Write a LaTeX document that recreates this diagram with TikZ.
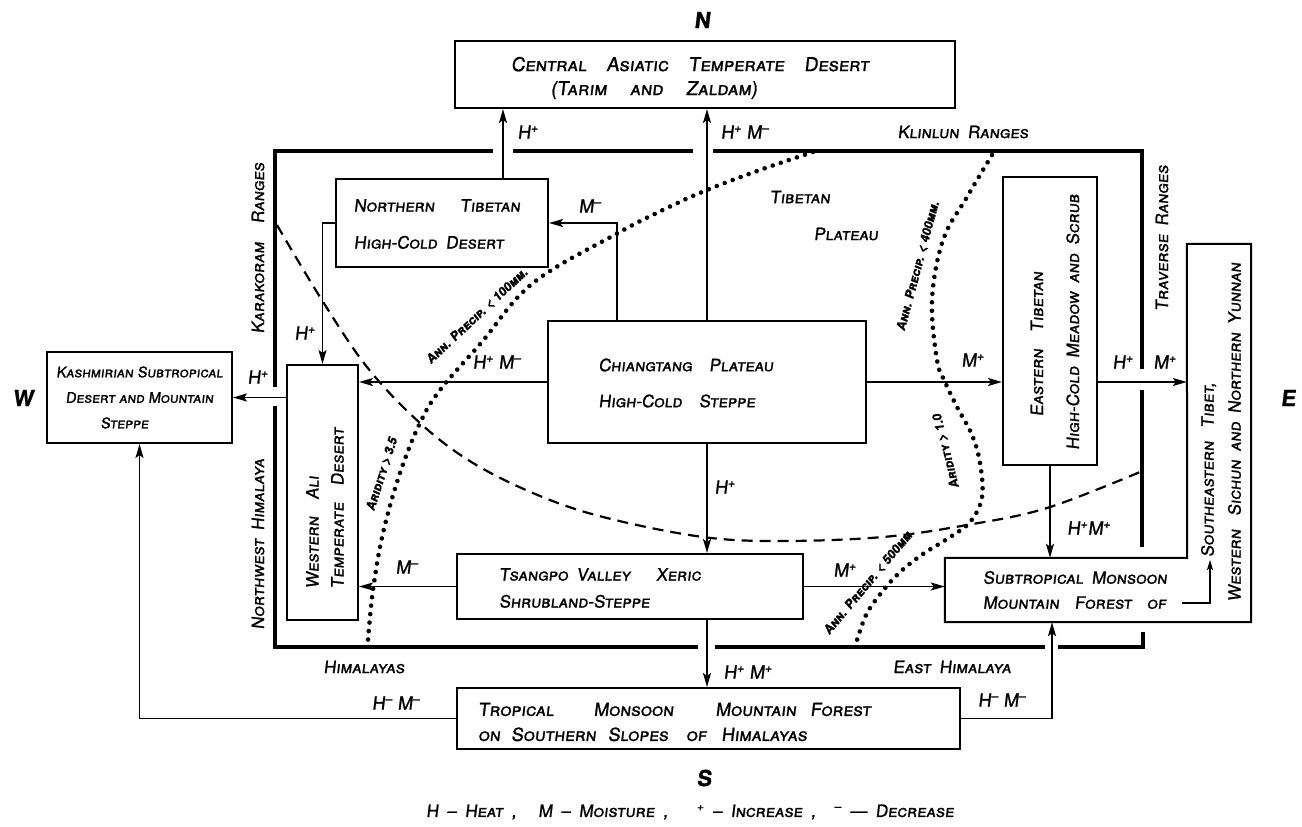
\documentclass[tikz,border=0pt]{standalone}
\usepackage{fontspec}
\usetikzlibrary{arrows.meta,calc}
\newfontfamily\hand{TeX Gyre Heros}[FakeSlant=0.12,FakeBold=1.2,Letters=SmallCaps,Ligatures=TeX]
\newcommand\supP{\textsuperscript{+}}
\newcommand\supM{\textsuperscript{–}}
\tikzset{
  box/.style={draw, line width=2pt, inner sep=0pt},
  txt/.style={font={\hand\fontsize{17}{#1}\selectfont\spaceskip=0.5em\relax}, inner sep=0pt},
  lab/.style={font={\hand\fontsize{18}{20}\selectfont}, inner sep=0pt},
  rng/.style={font={\hand\fontsize{17}{20}\selectfont\spaceskip=0.5em\relax}, inner sep=0pt},
  clab/.style={font={\hand\bfseries\fontsize{12.5}{14}\selectfont}, inner sep=0pt},
  compass/.style={font={\hand\bfseries\fontsize{22}{24}\selectfont}, inner sep=0pt},
  arr/.style={line width=1.8pt, -{Stealth[length=14pt,width=8pt,inset=3pt]}},
  rangeline/.style={line width=4.5pt},
  dots/.style={line width=4.6pt, line cap=round, dash pattern=on 0.01pt off 8.5pt},
  dashcurve/.style={line width=2.2pt, dash pattern=on 11pt off 7pt}
}
\begin{document}
\begin{tikzpicture}[x=1pt,y=-1pt]
\useasboundingbox (0,0) rectangle (1302,827);
\fill[white] (0,0) rectangle (1302,827);

% ---------- mountain ranges (frame) ----------
\draw[rangeline] (493,151) -- (275,151) -- (275,387);
\draw[rangeline] (513,151) -- (693,151);
\draw[rangeline] (713,151) -- (1142,151) -- (1142,369);
\draw[rangeline] (1142,390) -- (1142,547);
\draw[rangeline] (275,406) -- (275,647) -- (698,647);
\draw[rangeline] (715,647) -- (1045,647);
\draw[rangeline] (1058,647) -- (1143,647) -- (1143,632);

% ---------- curves ----------
\draw[dashcurve] plot[smooth, tension=0.6] coordinates {(277,225) (320,297) (367,367) (420,423) (473,463) (540,496) (607,518) (703,537) (783,541) (883,537) (967,525) (1047,508) (1140,472)};
\draw[dots] plot[smooth, tension=0.6] coordinates {(813,152) (760,170) (707,190) (667,208) (618,233) (533,283) (481,343) (440,390) (420,423) (400,473) (383,533) (373,590) (368,640)};
\draw[dots] plot[smooth, tension=0.6] coordinates {(992,155) (967,197) (943,240) (932,300) (937,360) (945,382) (957,407) (972,435) (980,463) (982,497) (970,522) (947,539) (920,556) (897,575) (878,597) (866,615) (857,640)};

% ---------- boxes ----------
\node[box, minimum width=500pt, minimum height=67pt] (top) at (705,74.5) {};
\node[txt=24, font={\hand\fontsize{19}{24}\selectfont}, align=center] (top-t) at (672,78) {\hspace*{36pt}Central\hspace{20pt}Asiatic\hspace{20pt}Temperate\hspace{20pt}Desert\\(Tarim\hspace{23pt}and\hspace{23pt}Zaldam)\hspace*{36pt}};

\node[box, minimum width=212pt, minimum height=88pt] (nt) at (442,223) {};
\node[txt=37, align=left] (nt-t) at (437,224) {Northern\hspace{1em} Tibetan\\High-Cold Desert};

\node[box, minimum width=318pt, minimum height=122pt] (ca) at (707,382) {};
\node[txt=36, align=left] (ca-t) at (686,383) {Chiangtang\hspace{0.5em} Plateau\\High-Cold\hspace{0.5em} Steppe};

\node[box, minimum width=71pt, minimum height=255pt] (wa) at (322.5,492.5) {};
\node[txt=25, align=left, rotate=90] (wa-t) at (325,508) {Western\hspace{0.5em} Ali\\Temperate\hspace{0.5em} Desert};

\node[box, txt=25.5, font={\hand\fontsize{14.5}{25.5}\selectfont}, align=center, minimum width=185pt, minimum height=91pt] (ks) at (139.5,397.5) {Kashmirian Subtropical\\Desert and Mountain\\Steppe\hspace*{30pt}};

\node[box, minimum width=94pt, minimum height=288pt] (et) at (1050,321) {};
\node[txt=36, align=center, rotate=90] (et-t) at (1055,322) {Eastern\hspace{0.5em} Tibetan\hspace*{44pt}\\High-Cold Meadow and Scrub};

\node[box, minimum width=346pt, minimum height=65pt] (ts) at (630,586.5) {};
\node[txt=27, align=left] (ts-t) at (600,588) {Tsangpo Valley\hspace{1em} Xeric\\Shrubland-Steppe};

\node[box, minimum width=503pt, minimum height=61pt] (tr) at (708.5,718.5) {};
\node[txt=25, font={\hand\fontsize{18}{25}\selectfont}, align=left, anchor=west] (tr-t) at (478,722) {Tropical\hspace{40pt}Monsoon\hspace{42pt}Mountain\hspace{14pt}Forest\\on\hspace{11pt}Southern\hspace{12pt}Slopes\hspace{18pt}of\hspace{15pt}Himalayas};

\node[minimum width=242pt, minimum height=64pt, inner sep=0pt] (sm) at (1066,590) {};
\node[minimum width=64pt, minimum height=378pt, inner sep=0pt] (se) at (1219,433) {};
\draw[line width=2pt] (sm.north west) -- (sm.north east) -- (se.north west) -- (se.north east) -- (se.south east) -- (sm.south west) -- cycle;
\node[txt=25, align=left] (sm-t) at (1075,590) {Subtropical Monsoon\\Mountain\hspace{0.4em} Forest\hspace{0.4em} of};
\node[txt=27, align=center, rotate=90] (se-t) at (1221,432) {Southeastern\hspace{0.3em} Tibet,\hspace*{76pt}\\Western\hspace{0.3em} Sichun and Northern Yunnan};

% ---------- connectors ----------
\coordinate (ntup) at ($(nt.north)+(61,0)$);
\coordinate (cam) at ($(ca.north)+(-90,0)$);
\coordinate (smb) at ($(sm.south)+(-14,0)$);
\coordinate (ofend) at (1182,603);
\coordinate (seup) at (1210,560);

\draw[arr] (ca.north) -- (ca.north |- top.south);
\draw[arr] (ntup) -- (ntup |- top.south);
\draw[arr] (cam) |- (nt.east);
\draw[arr] (nt.west) -| (wa.north);
\draw[arr] (ca.west) -- (ca.west -| wa.east);
\draw[arr] (wa.west |- ks.east) -- (ks.east);
\draw[arr] (ts.west) -- (ts.west -| wa.east);
\draw[arr] (ca.south) -- (ca.south |- ts.north);
\draw[arr] (ca.south |- ts.south) -- (ca.south |- tr.north);
\draw[arr] (ts.east) -- (ts.east -| sm.west);
\draw[arr] (ca.east) -- (ca.east -| et.west);
\draw[arr] (et.east |- ca.east) -- (ca.east -| se.west);
\draw[arr] (et.south) -- (et.south |- sm.north);
\draw[arr] (tr.west) -| (ks.south);
\draw[arr] (tr.east) -| (smb);
\draw[line width=1.5pt, -{Stealth[length=10pt,width=6pt,inset=2pt]}] (ofend) -| (seup);

% ---------- flow labels ----------
\node[lab] (f1) at (528,132) {H\supP};
\node[lab] (f2) at (745,132) {H\supP\ M\supM};
\node[lab] (f3) at (590,206) {M\supM};
\node[lab] (f4) at (305,333) {H\supP};
\node[lab] (f5) at (497,362) {H\supP\ M\supM};
\node[lab] (f6) at (258,377) {H\supP};
\node[lab] (f7) at (407,567) {M\supM};
\node[lab] (f8) at (725,487) {H\supP};
\node[lab] (f9) at (748,672) {H\supP\ M\supP};
\node[lab] (f10) at (845,570) {M\supP};
\node[lab] (f11) at (973,360) {M\supP};
\node[lab] (f12) at (1123,362) {H\supP};
\node[lab] (f13) at (1165,362) {M\supP};
\node[lab] (f14) at (1089,528) {H\supP M\supP};
\node[lab] (f15) at (396,703) {H\supM\ M\supM};
\node[lab] (f16) at (1002,700) {H\supM\ M\supM};

% ---------- range / region labels ----------
\node[rng] (klin) at (963,132) {Klinlun Ranges};
\node[rng, rotate=90] (kara) at (258,248) {Karakoram\hspace{0.6em} Ranges};
\node[rng, rotate=90] (nwh) at (258,544) {Northwest Himalaya};
\node[rng, rotate=90] (trav) at (1162,238) {Traverse Ranges};
\node[rng] (him) at (364,667) {Himalayas};
\node[rng] (ehim) at (952,667) {East Himalaya};
\node[rng] (tib) at (800,197) {Tibetan};
\node[rng] (pla) at (846,234) {Plateau};

% ---------- curve labels ----------
\node[clab, rotate=43] (c1) at (477,316) {Ann. Precip. < 100mm.};
\node[clab, rotate=72] (c2) at (382,474) {Aridity > 3.5};
\node[clab, rotate=75] (c3) at (918,266) {Ann. Precip. < 400mm.};
\node[clab, rotate=104] (c4) at (946,451) {Aridity > 1.0};
\node[clab, rotate=50] (c5) at (868,583) {Ann. Precip. < 500mm};

% ---------- compass and legend ----------
\node[compass] (n) at (702,20) {N};
\node[compass] (s) at (704,778) {S};
\node[compass] (w) at (23,398) {W};
\node[compass] (e) at (1288,398) {E};
\node[rng] (legend) at (690,812) {H – Heat ,\hspace{0.8em} M – Moisture ,\hspace{1.2em} \supP\ – Increase ,\hspace{0.6em} \supM\ — Decrease};
\end{tikzpicture}
\end{document}
